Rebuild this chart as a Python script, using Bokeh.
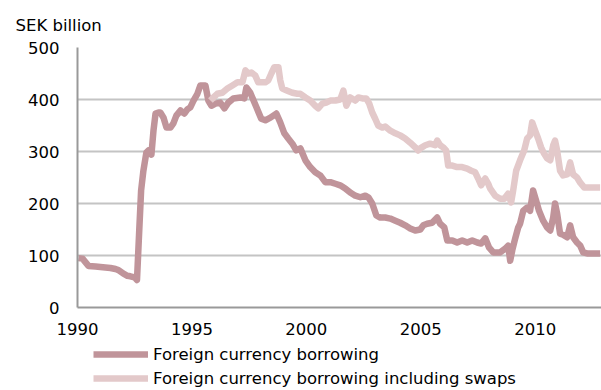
from bokeh.plotting import figure
from bokeh.layouts import column
from bokeh.models import (FixedTicker, Legend, LegendItem, Range1d, Title)
from bokeh.embed import file_html
from bokeh.resources import INLINE

# Foreign currency borrowing (SEK billion), decimal years
fcb_year = [1990.04, 1990.22, 1990.48, 1990.79, 1991.00, 1991.22, 1991.44, 1991.66, 1991.79,
            1992.01, 1992.18, 1992.31, 1992.49, 1992.60, 1992.70, 1992.78, 1992.88, 1993.01,
            1993.10, 1993.23, 1993.32, 1993.41, 1993.54, 1993.62, 1993.76, 1993.89, 1994.06,
            1994.19, 1994.32, 1994.50, 1994.67, 1994.80, 1994.93, 1995.07, 1995.24, 1995.37,
            1995.59, 1995.72, 1995.85, 1996.03, 1996.24, 1996.42, 1996.59, 1996.81, 1997.12,
            1997.29, 1997.38, 1997.55, 1997.82, 1998.03, 1998.21, 1998.43, 1998.69, 1998.86,
            1999.04, 1999.21, 1999.39, 1999.56, 1999.74, 1999.96, 2000.17, 2000.39, 2000.61,
            2000.83, 2001.05, 2001.27, 2001.48, 2001.70, 2001.92, 2002.14, 2002.36, 2002.58,
            2002.71, 2002.88, 2003.06, 2003.23, 2003.45, 2003.67, 2003.89, 2004.10, 2004.32,
            2004.54, 2004.76, 2004.98, 2005.11, 2005.28, 2005.50, 2005.72, 2005.85, 2006.03,
            2006.16, 2006.38, 2006.59, 2006.81, 2007.03, 2007.25, 2007.47, 2007.64, 2007.82,
            2007.99, 2008.17, 2008.47, 2008.69, 2008.82, 2008.91, 2009.00, 2009.13, 2009.26,
            2009.34, 2009.48, 2009.65, 2009.78, 2009.91, 2010.04, 2010.17, 2010.35, 2010.52,
            2010.66, 2010.79, 2010.87, 2010.96, 2011.09, 2011.22, 2011.40, 2011.53, 2011.66,
            2011.83, 2011.97, 2012.10, 2012.27, 2012.84]
fcb_value = [95, 94, 80, 79, 78, 77, 76, 74, 72,
             65, 61, 60, 58, 53, 150, 225, 263, 298,
             302, 294, 340, 373, 375, 375, 365, 346, 346,
             354, 369, 379, 373, 381, 385, 398, 411, 427,
             427, 398, 388, 392, 394, 383, 394, 402, 404,
             402, 423, 413, 385, 363, 360, 365, 373, 356,
             335, 325, 315, 302, 306, 283, 270, 260, 254,
             241, 241, 238, 235, 229, 221, 215, 212, 215,
             212, 200, 177, 173, 173, 171, 167, 163, 158,
             152, 148, 150, 158, 161, 163, 173, 161, 154,
             129, 129, 125, 129, 125, 129, 125, 123, 133,
             115, 106, 106, 113, 119, 90, 110, 133, 154,
             161, 186, 192, 186, 225, 206, 186, 167, 154,
             148, 173, 200, 181, 142, 140, 135, 158, 135,
             125, 119, 106, 104, 104]

# Foreign currency borrowing including swaps (SEK billion)
swp_year = [1995.81, 1995.94, 1996.11, 1996.33, 1996.55, 1996.77, 1996.99, 1997.21, 1997.34,
            1997.47, 1997.60, 1997.77, 1997.90, 1998.08, 1998.21, 1998.34, 1998.47, 1998.60,
            1998.78, 1998.86, 1998.95, 1999.17, 1999.39, 1999.61, 1999.74, 1999.96, 2000.17,
            2000.39, 2000.52, 2000.70, 2000.87, 2001.05, 2001.27, 2001.48, 2001.62, 2001.75,
            2001.92, 2002.14, 2002.27, 2002.45, 2002.62, 2002.75, 2002.88, 2003.01, 2003.14,
            2003.32, 2003.45, 2003.67, 2003.89, 2004.10, 2004.32, 2004.54, 2004.76, 2004.89,
            2004.98, 2005.20, 2005.41, 2005.63, 2005.72, 2005.85, 2005.98, 2006.11, 2006.20,
            2006.38, 2006.59, 2006.81, 2007.03, 2007.21, 2007.38, 2007.51, 2007.64, 2007.82,
            2007.95, 2008.03, 2008.25, 2008.47, 2008.65, 2008.82, 2008.95, 2009.04, 2009.17,
            2009.34, 2009.52, 2009.65, 2009.78, 2009.87, 2010.00, 2010.13, 2010.26, 2010.39,
            2010.52, 2010.66, 2010.79, 2010.87, 2010.96, 2011.09, 2011.22, 2011.40, 2011.53,
            2011.66, 2011.83, 2011.97, 2012.14, 2012.40, 2012.84]
swp_value = [398, 404, 411, 413, 421, 427, 433, 433, 456,
             450, 452, 446, 433, 433, 433, 437, 450, 462,
             462, 437, 421, 417, 413, 411, 411, 404, 398,
             388, 383, 392, 394, 398, 398, 400, 417, 388,
             404, 398, 404, 402, 402, 392, 375, 363, 350,
             346, 348, 340, 335, 331, 325, 317, 308, 302,
             306, 312, 315, 312, 321, 312, 308, 302, 273,
             273, 270, 270, 267, 263, 260, 248, 235, 248,
             238, 229, 215, 209, 209, 219, 202, 225, 263,
             283, 302, 325, 331, 356, 340, 325, 308, 296,
             287, 283, 312, 321, 302, 263, 254, 256, 279,
             256, 250, 240, 231, 231, 231]

x_ticks = [1990, 1995, 2000, 2005, 2010]
y_ticks = [0, 100, 200, 300, 400, 500]
series_labels = ["Foreign currency borrowing", "Foreign currency borrowing including swaps"]

DARK = "#c0949a"
LIGHT = "#e3c9ca"
FONT = "DejaVu Sans"
FS = "16.5px"

# ---- main chart ----
p = figure(width=601, height=342, output_backend="svg", toolbar_location=None,
           x_range=Range1d(1990, 2012.9), y_range=Range1d(0, 500),
           min_border_left=77, min_border_right=0, min_border_top=46, min_border_bottom=35)
p.outline_line_color = None
p.background_fill_color = "white"
p.border_fill_color = "white"

t = Title(text="SEK billion", align="left", offset=-62, text_font=FONT,
          text_font_size=FS, text_font_style="normal", text_color="black", standoff=26)
p.add_layout(t, "above")

p.line(fcb_year, fcb_value, line_color=DARK, line_width=6.5, line_join="round")
p.line(swp_year, swp_value, line_color=LIGHT, line_width=6.5, line_join="round")

p.xaxis.ticker = FixedTicker(ticks=x_ticks)
p.yaxis.ticker = FixedTicker(ticks=y_ticks)
for ax in (p.xaxis[0], p.yaxis[0]):
    ax.axis_line_color = "#999999"
    ax.axis_line_width = 2
    ax.major_tick_line_color = None
    ax.minor_tick_line_color = None
    ax.major_tick_out = 0
    ax.major_tick_in = 0
    ax.major_label_text_font = FONT
    ax.major_label_text_font_size = FS
    ax.major_label_text_color = "black"
p.yaxis.major_label_standoff = 18
p.xaxis.major_label_standoff = 15

p.xgrid.grid_line_color = None
p.ygrid.grid_line_color = "#c4c4c4"
p.ygrid.grid_line_width = 2

# ---- legend strip (same series, view range kept away from the data) ----
q = figure(width=601, height=48, output_backend="svg", toolbar_location=None,
           x_range=Range1d(0, 1), y_range=Range1d(0, 1),
           x_axis_type=None, y_axis_type=None,
           min_border_left=0, min_border_right=0, min_border_top=0, min_border_bottom=0)
q.outline_line_color = None
q.xgrid.grid_line_color = None
q.ygrid.grid_line_color = None
q1 = q.line(fcb_year, fcb_value, line_color=DARK, line_width=6.5)
q2 = q.line(swp_year, swp_value, line_color=LIGHT, line_width=6.5)

legend = Legend(items=[LegendItem(label=series_labels[0], renderers=[q1]),
                       LegendItem(label=series_labels[1], renderers=[q2])],
                location=(16, 0), orientation="vertical", padding=0, margin=0, spacing=0,
                glyph_width=55, glyph_height=24, label_height=24, label_standoff=5,
                label_text_font=FONT, label_text_font_size=FS, label_text_color="black",
                border_line_color=None, background_fill_alpha=0)
q.add_layout(legend, "center")

layout = column(p, q, spacing=0)
open("out.html", "w").write(file_html(layout, INLINE))
